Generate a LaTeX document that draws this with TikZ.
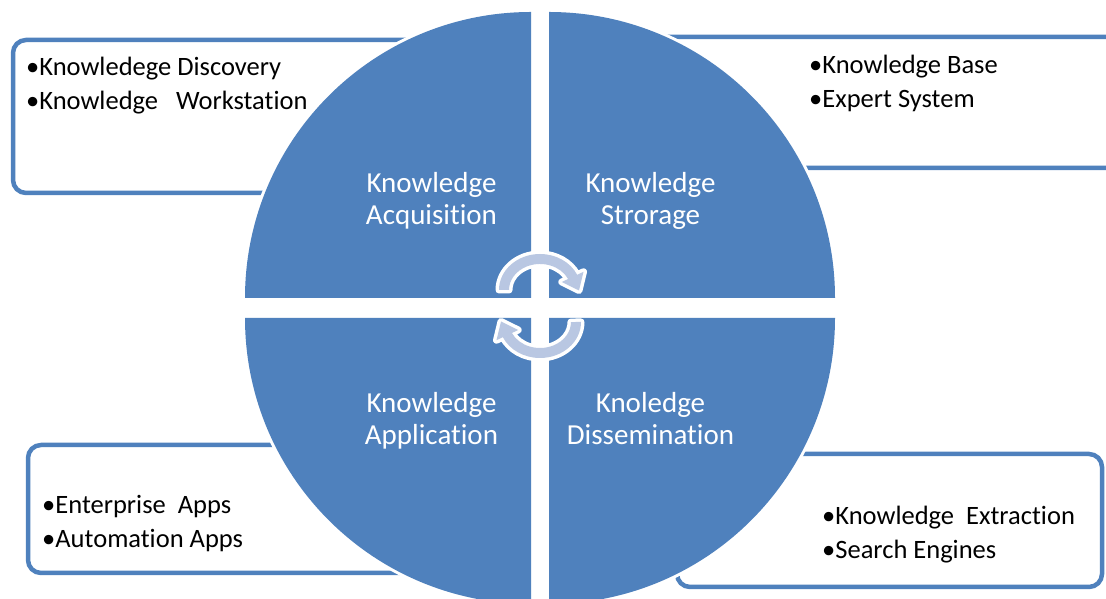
\documentclass[tikz,border=0pt]{standalone}
\usepackage{fontspec}
\setmainfont{Carlito}[Ligatures={NoCommon}]
\definecolor{quadblue}{RGB}{79,129,189}
\definecolor{arrowfill}{RGB}{185,199,226}
\begin{document}
\begin{tikzpicture}[x=1pt,y=1pt,
  infobox/.style={draw=quadblue, line width=4.5pt, rounded corners=13pt, fill=white},
  quadrant/.style={fill=quadblue, preaction={draw=white, line width=6pt, line join=round}},
  cyclearrow/.style={fill=arrowfill, preaction={draw=white, line width=7pt, line join=round}},
  bullettext/.style={anchor=west, align=left, inner sep=0pt, font=\fontsize{26.5}{34}\selectfont, text=black},
  quadlabel/.style={align=center, inner sep=0pt, font=\fontsize{29}{32}\selectfont, text=white}]
\useasboundingbox (0,0) rectangle (1106,599);
\clip (0,0) rectangle (1106,599);

% information boxes behind the circle
\draw[infobox] (13,406) rectangle (520,559);
\draw[infobox] (560,431) rectangle (1125,562);
\draw[infobox] (28,26) rectangle (520,154);
\draw[infobox] (677,12) rectangle (1102,145);

% the four quarter circles
\path[quadrant] (531,301) -- (245,301) arc[start angle=180, end angle=90, radius=286pt] -- cycle;
\path[quadrant] (549,301) -- (549,587) arc[start angle=90, end angle=0, radius=286pt] -- cycle;
\path[quadrant] (531,281) -- (245,281) arc[start angle=180, end angle=270, radius=286pt] -- cycle;
\path[quadrant] (549,281) -- (835,281) arc[start angle=0, end angle=-90, radius=286pt] -- cycle;

% circular arrows in the middle
\begin{scope}[shift={(540,309)}]
  \path[cyclearrow] (-41,0) arc[start angle=180, end angle=25, x radius=41pt, y radius=36pt]
    -- (43.5,18.2) -- (39.0,-0.5) -- (21.8,8.0) -- (28.1,11.0)
    arc[start angle=25, end angle=180, x radius=31pt, y radius=26pt] -- cycle;
\end{scope}
\begin{scope}[shift={(540,277)}, rotate=180]
  \path[cyclearrow] (-41,0) arc[start angle=180, end angle=25, x radius=41pt, y radius=36pt]
    -- (43.5,18.2) -- (39.0,-0.5) -- (21.8,8.0) -- (28.1,11.0)
    arc[start angle=25, end angle=180, x radius=31pt, y radius=26pt] -- cycle;
\end{scope}

% quadrant labels
\node[quadlabel] (acq) at (431.5,398) {Knowledge\\Acquisition};
\node[quadlabel] (sto) at (650.5,398) {Knowledge\\Strorage};
\node[quadlabel] (app) at (431.5,178) {Knowledge\\Application};
\node[quadlabel] (dis) at (650.5,180) {Knoledge\\Dissemination};

% box contents
\node[bullettext] (tlitems) at (26,513) {•Knowledege Discovery\\•Knowledge~~~Workstation};
\node[bullettext] (tritems) at (809,516) {•Knowledge Base\\•Expert System};
\node[bullettext] (blitems) at (42,75.5) {•Enterprise~~Apps\\•Automation Apps};
\node[bullettext] (britems) at (822,64.5) {•Knowledge~~Extraction\\•Search Engines};
\end{tikzpicture}
\end{document}
